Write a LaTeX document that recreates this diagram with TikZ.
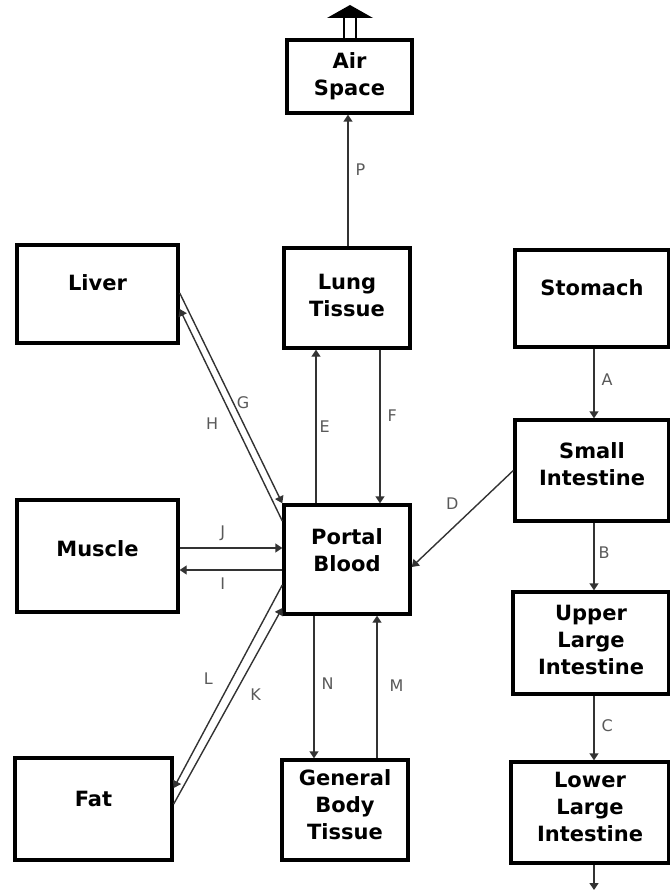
\documentclass[tikz,border=0pt]{standalone}
\usepackage{fontspec}
\setmainfont{DejaVu Sans}
\usetikzlibrary{positioning}
\usetikzlibrary{calc}
\usetikzlibrary{arrows.meta}
\newcommand{\boxfont}{\bfseries\fontsize{21}{27}\selectfont}
\newcommand{\tagfont}{\fontsize{16}{18}\selectfont}
\tikzset{
  compartment/.style={draw, line width=3.4pt, font=\boxfont, inner sep=0pt},
  stacked/.style={compartment, align=center},
  lift/.style={text depth=#1},
  flow/.style={line width=1.4pt, draw=black!80, -{Triangle[length=7pt,width=9pt]}},
  tag/.style={font=\tagfont, text=black!65, inner sep=1pt},
}

\begin{document}
\begin{tikzpicture}[x=1pt,y=-1pt]
      \useasboundingbox (0,0) rectangle (669,890);
      % compartments
      \node[stacked, minimum width=125pt, minimum height=73pt] (air) at (349.5,76.5) {Air\\Space};
      \node[stacked, minimum width=126pt, minimum height=100pt, lift=5pt] (lung) at (347,298) {Lung\\Tissue};
      \node[compartment, minimum width=161pt, minimum height=98pt, lift=22pt] (liver) at (97.5,294) {Liver};
      \node[compartment, minimum width=154pt, minimum height=97pt, lift=22pt] (stomach) at (592,298.5) {Stomach};
      \node[stacked, minimum width=154pt, minimum height=101pt, lift=12pt] (small) at (592,470.5) {Small\\Intestine};
      \node[stacked, minimum width=126pt, minimum height=109pt, lift=18pt] (portal) at (347,559.5) {Portal\\Blood};
      \node[compartment, minimum width=161pt, minimum height=112pt, lift=14pt] (muscle) at (97.5,556) {Muscle};
      \node[stacked, minimum width=156pt, minimum height=102pt, lift=6pt] (upper) at (591,643) {Upper\\Large\\Intestine};
      \node[compartment, minimum width=157pt, minimum height=102pt, lift=20pt] (fat) at (93.5,809) {Fat};
      \node[stacked, minimum width=126pt, minimum height=100pt, lift=10pt] (gbt) at (345,810) {General\\Body\\Tissue};
      \node[stacked, minimum width=158pt, minimum height=101pt, lift=11pt] (lower) at (590,812.5) {Lower\\Large\\Intestine};
      \coordinate (vent) at (350,18);
      \coordinate (out) at (594,890);
      % exhaled air
      \draw[line width=2pt, double distance=10pt] (air.north -| vent) -- (vent);
      \fill (vent) ++(-23,0) -- ++(46,0) -- ++(-23,-13) -- cycle;
      % flows
      \draw[flow] (lung.north -| 348,0) -- node[tag, pos=0.58, right=6pt] {P} (air.south -| 348,0);
      \draw[flow] (portal.north -| 316,0) -- node[tag, pos=0.5, right=2pt] {E} (lung.south -| 316,0);
      \draw[flow] (lung.south -| 380,0) -- node[tag, pos=0.43, right=6pt] {F} (portal.north -| 380,0);
      \draw[flow] (portal.south -| 314,0) -- node[tag, pos=0.48, right=6pt] {N} (gbt.north -| 314,0);
      \draw[flow] (gbt.north -| 377,0) -- node[tag, pos=0.51, right=11pt] {M} (portal.south -| 377,0);
      \draw[flow] (stomach.south -| 594,0) -- node[tag, pos=0.45, right=6pt] {A} (small.north -| 594,0);
      \draw[flow] (small.south -| 594,0) -- node[tag, pos=0.44, right=3pt] {B} (upper.north -| 594,0);
      \draw[flow] (upper.south -| 594,0) -- node[tag, pos=0.47, right=6pt] {C} (lower.north -| 594,0);
      \draw[flow] (lower.south -| out) -- (out);
      \draw[flow] (small.west) -- node[tag, pos=0.6, yshift=25pt] {D} (portal.east |- 0,567);
      \draw[flow] (muscle.east |- 0,548) -- node[tag, pos=0.42, above=6pt] {J} (portal.west |- 0,548);
      \draw[flow] (portal.west |- 0,570) -- node[tag, pos=0.58, below=6pt] {I} (muscle.east |- 0,570);
      \draw[flow] (liver.east |- 0,293) -- node[tag, pos=0.52, xshift=10pt] {G} (portal.north west);
      \draw[flow] (portal.west |- 0,521) -- node[tag, pos=0.46, xshift=-23pt] {H} (liver.east |- 0,309);
      \draw[flow] (fat.east |- 0,804) -- node[tag, pos=0.56, xshift=21pt] {K} (portal.west |- 0,608);
      \draw[flow] (portal.west |- 0,585) -- node[tag, pos=0.46, xshift=-24pt] {L} (fat.east |- 0,788);
\end{tikzpicture}
\end{document}
